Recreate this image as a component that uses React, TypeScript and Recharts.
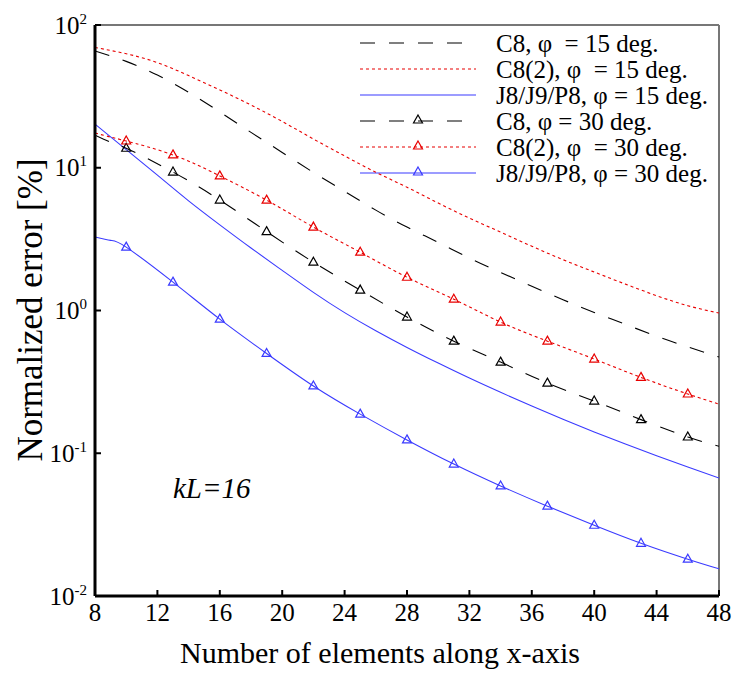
import React from 'react';
import { LineChart, Line, XAxis, YAxis, ReferenceLine } from 'recharts';

// x positions (number of elements) for the phi = 15 deg curves
const xs15 = [8, 10, 12, 14, 16, 18, 20, 22, 24, 26, 28, 30, 32, 34, 36, 38, 40, 42, 44, 46, 48];
const c8_15 = [65.7, 55.6, 44.6, 33.8, 24.6, 17.7, 12.8, 9.27, 6.84, 5.05, 3.84, 3.0, 2.33, 1.85, 1.48, 1.19, 0.97, 0.80, 0.66, 0.556, 0.472];
const c82_15 = [69.6, 62.9, 54.5, 44.2, 35.1, 27.5, 21.1, 15.9, 12.1, 9.3, 7.3, 5.66, 4.44, 3.54, 2.82, 2.27, 1.86, 1.53, 1.27, 1.08, 0.96];
const j8_15 = [20.2, 13.4, 8.87, 5.86, 3.98, 2.74, 1.91, 1.34, 0.966, 0.721, 0.551, 0.428, 0.336, 0.267, 0.214, 0.173, 0.141, 0.116, 0.0962, 0.0802, 0.067];

// x positions for the phi = 30 deg curves
const xs30 = [8, 9, 10, 13, 16, 19, 22, 25, 28, 31, 34, 37, 40, 43, 46, 48];
const markerXs = [10, 13, 16, 19, 22, 25, 28, 31, 34, 37, 40, 43, 46];
const c8_30 = [16.9, 15.1, 13.7, 9.33, 5.94, 3.57, 2.18, 1.39, 0.9, 0.61, 0.435, 0.31, 0.232, 0.172, 0.13, 0.112];
const c82_30 = [17.5, 16.4, 15.4, 12.3, 8.77, 5.93, 3.84, 2.56, 1.71, 1.2, 0.83, 0.61, 0.457, 0.34, 0.26, 0.221];
const j8_30 = [3.27, 3.1, 2.78, 1.58, 0.87, 0.5, 0.296, 0.188, 0.124, 0.084, 0.059, 0.0426, 0.0313, 0.0234, 0.0181, 0.0155];

const xTicks = [8, 12, 16, 20, 24, 28, 32, 36, 40, 44, 48];
const yTicks = [0.01, 0.1, 1, 10, 100];

const seriesNames = [
  'C8, φ\u00a0 = 15 deg.',
  'C8(2), φ\u00a0 = 15 deg.',
  'J8/J9/P8, φ = 15 deg.',
  'C8, φ = 30 deg.',
  'C8(2), φ\u00a0 = 30 deg.',
  'J8/J9/P8, φ = 30 deg.',
];

const BLACK = '#000000';
const RED = '#e80000';
const BLUE = '#3a3aff';
const FONT = '"Liberation Serif", "Times New Roman", serif';

const DASH = '15 14';
const DOT = '3 3';

const series = [
  { key: 'c8_15', xs: xs15, ys: c8_15, color: BLACK, dash: DASH, marker: false },
  { key: 'c82_15', xs: xs15, ys: c82_15, color: RED, dash: DOT, marker: false },
  { key: 'j8_15', xs: xs15, ys: j8_15, color: BLUE, dash: undefined, marker: false },
  { key: 'c8_30', xs: xs30, ys: c8_30, color: BLACK, dash: DASH, marker: true },
  { key: 'c82_30', xs: xs30, ys: c82_30, color: RED, dash: DOT, marker: true },
  { key: 'j8_30', xs: xs30, ys: j8_30, color: BLUE, dash: undefined, marker: true },
];

const tri = (cx: number, cy: number, color: string, k: string) => (
  <path
    key={k}
    d={`M${cx},${cy - 5} L${cx + 4.5},${cy + 3} L${cx - 4.5},${cy + 3} Z`}
    fill="none"
    stroke={color}
    strokeWidth={1.2}
  />
);

const makeDot = (color: string) => (props: any) => {
  const { cx, cy, payload, index } = props;
  if (!payload || !markerXs.includes(payload.x) || cx == null || cy == null) {
    return <g key={`n${index}`} />;
  }
  return tri(cx, cy, color, `t${index}`);
};

const XTick = (props: any) => {
  const { x, y, payload } = props;
  return (
    <g>
      <line x1={x} x2={x} y1={y} y2={y - 6} stroke="#000" strokeWidth={2} />
      <text x={x} y={y + 25} textAnchor="middle" fontFamily={FONT} fontSize={25} fill="#000">
        {payload.value}
      </text>
    </g>
  );
};

const YTick = (props: any) => {
  const { x, y, payload } = props;
  const exp = Math.round(Math.log10(payload.value));
  return (
    <g>
      <line x1={x} x2={x + 6} y1={y} y2={y} stroke="#000" strokeWidth={2} />
      <text x={x - 8} y={y + 8.5} textAnchor="end" fontFamily={FONT} fill="#000">
        <tspan fontSize={25}>10</tspan>
        <tspan fontSize={15} dy={-10}>{String(exp)}</tspan>
      </text>
    </g>
  );
};

const legendRows = [43, 69, 95, 121, 147, 173];

export default function App() {
  return (
    <div style={{ position: 'absolute', left: 0, top: 0, width: 732, height: 673, background: '#fff' }}>
      <LineChart width={732} height={673} margin={{ top: 25, right: 13, bottom: 0, left: 0 }}>
        <XAxis
          type="number"
          dataKey="x"
          domain={[8, 48]}
          ticks={xTicks}
          interval={0}
          height={77}
          tickSize={0}
          tickMargin={0}
          tick={<XTick />}
          axisLine={{ stroke: '#000', strokeWidth: 3 }}
          allowDataOverflow
        />
        <YAxis
          type="number"
          scale="log"
          domain={[0.01, 100]}
          ticks={yTicks}
          interval={0}
          width={95}
          tickSize={0}
          tickMargin={0}
          tick={<YTick />}
          axisLine={{ stroke: '#000', strokeWidth: 3 }}
          allowDataOverflow
        />
        <ReferenceLine y={100} stroke="#777" strokeWidth={2} ifOverflow="visible" />
        <ReferenceLine x={48} stroke="#777" strokeWidth={2} ifOverflow="visible" />
        {series.map((s) => (
          <Line
            key={s.key}
            data={s.xs.map((x, i) => ({ x, [s.key]: s.ys[i] }))}
            dataKey={s.key}
            type="natural"
            stroke={s.color}
            strokeWidth={1.1}
            strokeDasharray={s.dash}
            dot={s.marker ? makeDot(s.color) : false}
            activeDot={false}
            isAnimationActive={false}
          />
        ))}
        <g>
          {seriesNames.map((name, i) => {
            const s = series[i];
            const y = legendRows[i];
            return (
              <g key={name}>
                <line x1={360} x2={476} y1={y} y2={y} stroke={s.color} strokeWidth={1.1} strokeDasharray={s.dash} />
                {s.marker ? tri(418, y - 1, s.color, 'lm' + i) : null}
                <text x={496} y={y + 8.7} fontFamily={FONT} fontSize={25} fill="#000">
                  {name}
                </text>
              </g>
            );
          })}
        </g>
        <text x={173} y={498} fontFamily={FONT} fontSize={29} fontStyle="italic" fill="#000">
          kL=16
        </text>
        <text
          x={42}
          y={310}
          transform="rotate(-90, 42, 310)"
          textAnchor="middle"
          fontFamily={FONT}
          fontSize={35}
          fill="#000"
        >
          Normalized error [%]
        </text>
        <text x={380} y={663} textAnchor="middle" fontFamily={FONT} fontSize={30} fill="#000">
          Number of elements along x-axis
        </text>
      </LineChart>
    </div>
  );
}
